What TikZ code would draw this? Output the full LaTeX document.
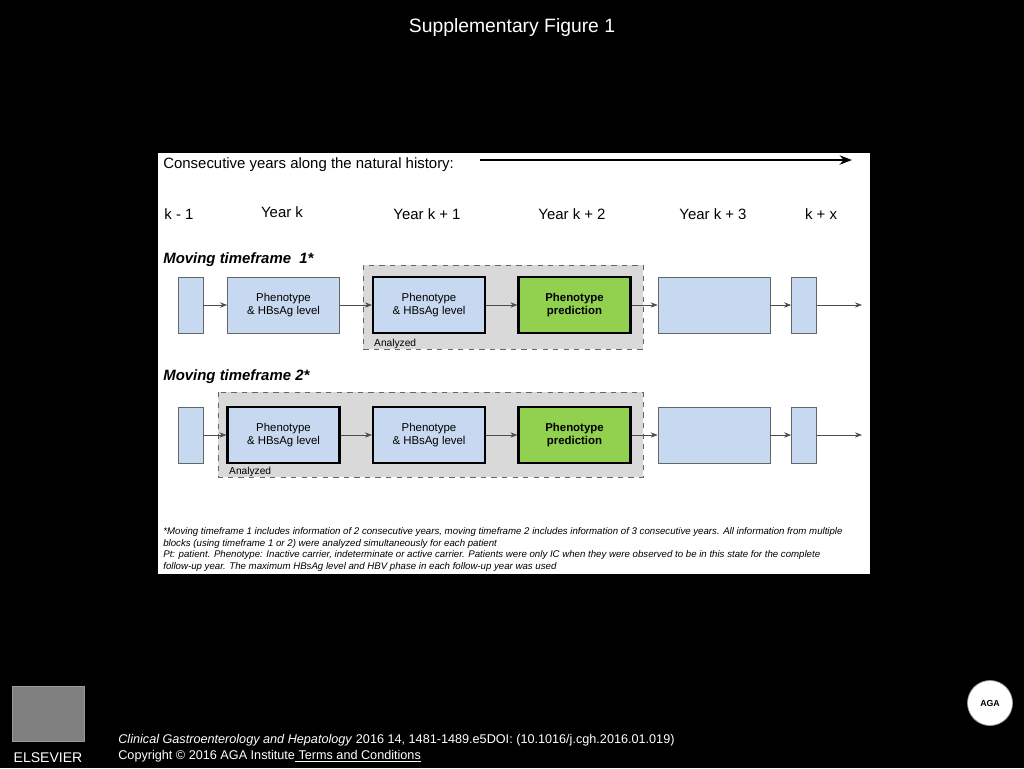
\documentclass[tikz,border=0pt]{standalone}
\usepackage{fontspec}
\setmainfont{Liberation Sans}
\definecolor{yr_blue}{RGB}{198, 217, 240}
\definecolor{yr_green}{RGB}{146, 208, 80}
\definecolor{yr_frame}{RGB}{217, 217, 217}
\usetikzlibrary{arrows.meta, positioning}
\tikzset{
  yearbox/.style={draw=black!60, fill=yr_blue, font=\fontsize{6.5}{7.6}\selectfont,
    align=center, minimum width=2.24cm, minimum height=1.12cm, inner sep=0pt},
  keybox/.style={yearbox, draw=black, line width=1.2pt},
  predbox/.style={keybox, fill=yr_green, font=\fontsize{6.5}{7.6}\selectfont\bfseries},
  stubbox/.style={draw=black!60, fill=yr_blue, minimum width=0.5cm, minimum height=1.12cm, inner sep=0pt},
  flow/.style={-{Stealth[length=4pt]}, black!70, thin},
  window/.style={draw=black!60, dashed, fill=yr_frame},
  yearlabel/.style={font=\fontsize{8.5}{10}\selectfont, anchor=base},
  rowlabel/.style={font=\fontsize{8.5}{10}\selectfont\bfseries\itshape, anchor=base west, inner sep=0pt}
}
\begin{document}
\begin{tikzpicture}[x=0.02cm, y=-0.02cm]
  \fill[black] (0,0) rectangle (1024,768);
  \node[white, font=\fontsize{11}{13}\selectfont] (title) at (512,27) {Supplementary Figure 1};
  \fill[white] (158,153) rectangle (870,574);

  % header
  \node[font=\fontsize{8.5}{10}\selectfont, anchor=base west, inner sep=0pt] (head) at (163,168) {Consecutive years along the natural history:};
  \coordinate (tl) at (480,160);
  \coordinate (tr) at (852,160);
  \draw[-{Stealth[length=7pt]}, line width=1.3pt] (tl) -- (tr);
  \node[yearlabel] (ym) at (179,219) {k - 1};
  \node[yearlabel] (y0) at (282,217) {Year k};
  \node[yearlabel] (y1) at (427,219) {Year k + 1};
  \node[yearlabel] (y2) at (572,219) {Year k + 2};
  \node[yearlabel] (y3) at (713,219) {Year k + 3};
  \node[yearlabel] (yx) at (821,219) {k + x};

  % timeframe 1
  \node[rowlabel] (mt1) at (163,263) {Moving timeframe\ \ 1*};
  \draw[window] (363,265) rectangle (643,349);
  \node[font=\fontsize{5.8}{7}\selectfont, anchor=base west] (an1) at (368,346) {Analyzed};
  \node[stubbox] (a0) at (190.5,305) {};
  \node[yearbox] (a1) at (283.5,305) {Phenotype\\\& HBsAg level};
  \node[keybox] (a2) at (429,305) {Phenotype\\\& HBsAg level};
  \node[predbox] (a3) at (574.5,305) {Phenotype\\prediction};
  \node[yearbox] (a4) at (714,305) {};
  \node[stubbox] (a5) at (804,305) {};
  \coordinate (a6) at (862,305);
  \foreach \s/\t in {a0/a1, a1/a2, a2/a3, a3/a4, a4/a5, a5/a6}
    \draw[flow] (\s) -- (\t);

  % timeframe 2
  \node[rowlabel] (mt2) at (163,380) {Moving timeframe 2*};
  \draw[window] (218,392) rectangle (643,477);
  \node[font=\fontsize{5.8}{7}\selectfont, anchor=base west] (an2) at (223,474) {Analyzed};
  \node[stubbox] (b0) at (190.5,435) {};
  \node[keybox] (b1) at (283.5,435) {Phenotype\\\& HBsAg level};
  \node[keybox] (b2) at (429,435) {Phenotype\\\& HBsAg level};
  \node[predbox] (b3) at (574.5,435) {Phenotype\\prediction};
  \node[yearbox] (b4) at (714,435) {};
  \node[stubbox] (b5) at (804,435) {};
  \coordinate (b6) at (862,435);
  \foreach \s/\t in {b0/b1, b1/b2, b2/b3, b3/b4, b4/b5, b5/b6}
    \draw[flow] (\s) -- (\t);

  % footnote
  \node[font=\fontsize{5.5}{6.7}\selectfont\itshape, align=left, anchor=north west, inner sep=0pt] (note) at (163,527)
    {*Moving timeframe 1 includes information of 2 consecutive years, moving timeframe 2 includes information of 3 consecutive years. All information from multiple\\
     blocks (using timeframe 1 or 2) were analyzed simultaneously for each patient\\
     Pt: patient. Phenotype: Inactive carrier, indeterminate or active carrier. Patients were only IC when they were observed to be in this state for the complete\\
     follow-up year. The maximum HBsAg level and HBV phase in each follow-up year was used};

  % credits
  \node[draw=black!40, fill=black!50, minimum width=1.44cm, minimum height=1.1cm, inner sep=0pt] (tree) at (48,714) {};
  \node[white, font=\fontsize{8}{9}\selectfont\scshape, anchor=base] (els) at (48,762) {ELSEVIER};
  \node[white, font=\fontsize{7.2}{8}\selectfont, anchor=base west, inner sep=0pt] (cite) at (118,743)
    {\textit{Clinical Gastroenterology and Hepatology} 2016 14, 1481-1489.e5DOI: (10.1016/j.cgh.2016.01.019)};
  \node[white, font=\fontsize{7.2}{8}\selectfont, anchor=base west, inner sep=0pt] (copy) at (118,759)
    {Copyright © 2016 AGA Institute\underline{ Terms and Conditions}};
  \node[circle, draw=black!40, fill=white, minimum size=0.9cm, font=\fontsize{5}{6}\selectfont\bfseries] (aga) at (990,703) {AGA};
\end{tikzpicture}
\end{document}
